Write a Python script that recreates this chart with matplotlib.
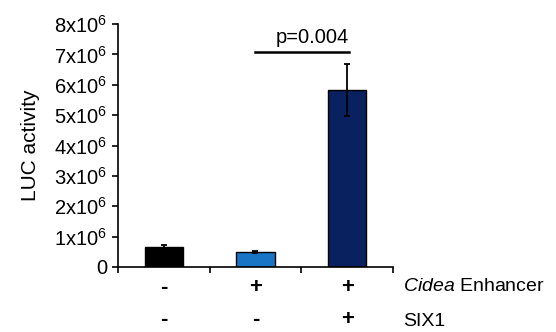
import numpy as np
import matplotlib.pyplot as plt
import matplotlib.transforms as mtransforms

plt.rcParams['font.family'] = ['Liberation Sans', 'DejaVu Sans']
plt.rcParams['mathtext.fontset'] = 'custom'
plt.rcParams['mathtext.rm'] = 'Liberation Sans'
plt.rcParams['mathtext.it'] = 'Liberation Sans:italic'

# data (LUC activity, in units of 1e6)
values = [0.66, 0.49, 5.83]
errors = [0.05, 0.04, 0.85]
colors = ['#000000', '#1874c4', '#0a2160']
enhancer = ['-', '+', '+']
six1 = ['-', '-', '+']
y_ticks = [0, 1, 2, 3, 4, 5, 6, 7, 8]
p_text = 'p=0.004'
p_level = 7.07

fig = plt.figure(figsize=(5.56, 3.32), dpi=100)
ax = fig.add_axes([118 / 556, 1 - 267 / 332, 275 / 556, 243 / 332])

x = np.arange(len(values))
ax.bar(x, values, width=0.42, color=colors, edgecolor='black', linewidth=1.0,
       yerr=errors, error_kw=dict(ecolor='black', elinewidth=1.3, capsize=2.5, capthick=1.3))

ax.set_xlim(-0.5, 2.5)
ax.set_ylim(0, 8)
ax.set_yticks(y_ticks)
ax.set_yticklabels(['0'] + ['%dx10$^{6}$' % t for t in y_ticks[1:]], fontsize=14.5)
ax.set_xticks([-0.5, 0.5, 1.5, 2.5])
ax.set_xticklabels([])
ax.tick_params(axis='both', direction='out', length=4, width=1.2, color='black')
ax.tick_params(axis='y', pad=4)
for s in ['top', 'right']:
    ax.spines[s].set_visible(False)
for s in ['left', 'bottom']:
    ax.spines[s].set_linewidth(1.2)
ax.set_ylabel('LUC activity', fontsize=15, labelpad=10)

# significance bar
ax.plot([1.0, 2.02], [p_level, p_level], color='black', lw=1.8, clip_on=False)
ax.text(2.02, 7.38, p_text, ha='right', va='baseline', fontsize=14.5)

# condition rows below the axis
trans = mtransforms.blended_transform_factory(ax.transData, ax.transAxes)
for i in x:
    ax.text(i, -0.086, enhancer[i], transform=trans, ha='center', va='center',
            fontsize=16, fontweight='bold')
    ax.text(i, -0.214, six1[i], transform=trans, ha='center', va='center',
            fontsize=16, fontweight='bold')
ax.text(2.61, -0.082, '$\\it{Cidea}$ Enhancer', transform=trans, ha='left',
        va='center', fontsize=14)
ax.text(2.61, -0.225, 'SIX1', transform=trans, ha='left', va='center', fontsize=14)

fig.savefig('out.png', dpi=100)
